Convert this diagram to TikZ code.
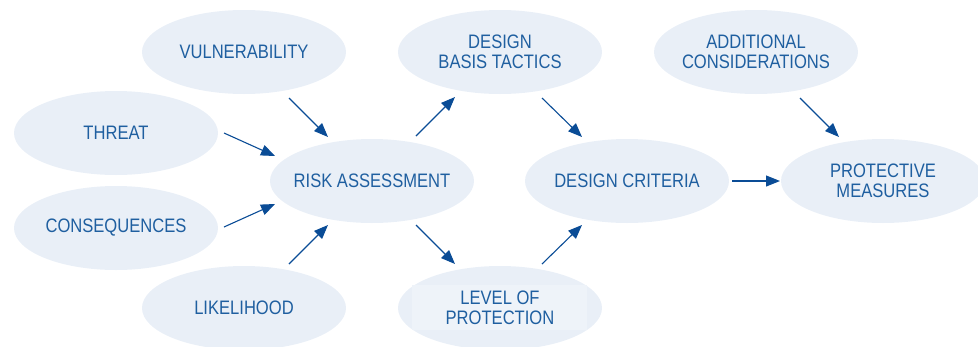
\documentclass[tikz,border=0pt]{standalone}
\usepackage{fontspec}
\setmainfont{Liberation Sans}[FakeStretch=0.85]
\usetikzlibrary{shapes.geometric,arrows.meta}
\definecolor{efill}{HTML}{E9EFF7}
\definecolor{efill2}{HTML}{EEF3F9}
\definecolor{etext}{HTML}{1F5FA0}
\definecolor{arrc}{HTML}{0A4C96}
\tikzset{
  oval/.style={ellipse, fill=efill, draw=none, minimum width=204pt, minimum height=84pt,
    inner xsep=-40pt, inner ysep=0pt, text=etext, align=center,
    font=\fontsize{19.5}{20}\selectfont},
  arr/.style={draw=arrc, line width=1.1pt, -{Triangle[length=14pt,width=11pt]}}
}
\begin{document}
\begin{tikzpicture}[x=1pt,y=-1pt]
\useasboundingbox (0,0) rectangle (978,346);
\clip (0,0) rectangle (978,346);
\node[oval] (v) at (244,52) {VULNERABILITY};
\node[oval] (t) at (116,133) {THREAT};
\node[oval] (c) at (116,228) {CONSEQUENCES};
\node[oval] (l) at (244,308) {LIKELIHOOD};
\node[oval] (r) at (372,181) {RISK ASSESSMENT};
\node[oval] (d) at (500,52) {DESIGN\\BASIS TACTICS};
\node[oval] (p) at (500,308) {};
\fill[efill2] (412,285) rectangle (587,330);
\node[text=etext, align=center, font=\fontsize{19.5}{20}\selectfont] (pt) at (p.center) {LEVEL OF\\PROTECTION};
\node[oval] (dc) at (627,181) {DESIGN CRITERIA};
\node[oval] (a) at (756,52) {ADDITIONAL\\CONSIDERATIONS};
\node[oval] (pm) at (883,181) {PROTECTIVE\\MEASURES};

\draw[arr] ([shift={(45,46)}]v.center) -- ([shift={(-44,-44)}]r.center);
\draw[arr] ([shift={(108,0)}]t.center) -- ([shift={(-97,-25)}]r.center);
\draw[arr] ([shift={(108,-1)}]c.center) -- ([shift={(-97,23)}]r.center);
\draw[arr] ([shift={(45,-44)}]l.center) -- ([shift={(-44,44)}]r.center);
\draw[arr] ([shift={(44,-45)}]r.center) -- ([shift={(-45,45)}]d.center);
\draw[arr] ([shift={(44,44)}]r.center) -- ([shift={(-45,-44)}]p.center);
\draw[arr] ([shift={(42,46)}]d.center) -- ([shift={(-45,-44)}]dc.center);
\draw[arr] ([shift={(42,-44)}]p.center) -- ([shift={(-45,44)}]dc.center);
\draw[arr] ([shift={(105,0)}]dc.center) -- ([shift={(-103,0)}]pm.center);
\draw[arr] ([shift={(44,46)}]a.center) -- ([shift={(-44,-44)}]pm.center);
\end{tikzpicture}
\end{document}
